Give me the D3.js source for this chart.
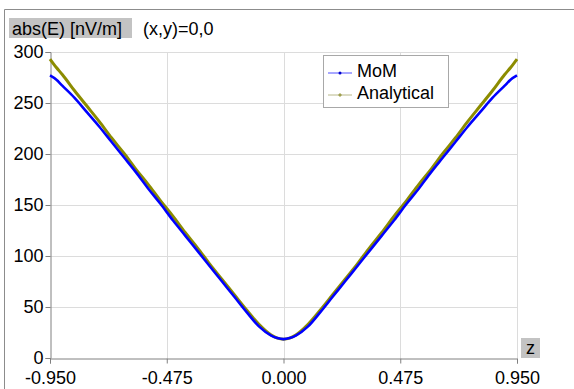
<!DOCTYPE html>
<html>
<head>
<meta charset="utf-8">
<script src="https://cdn.jsdelivr.net/npm/d3@7"></script>
<style>
  body { margin: 0; background: #fff; }
  svg { display: block; font-family: "Liberation Sans", Arial, sans-serif; }
</style>
</head>
<body>
<div id="chart"></div>
<script>
// sample positions along z (half, mirrored below)
const zHalf = [0, 0.025, 0.05, 0.1, 0.15, 0.2, 0.25, 0.3, 0.35, 0.4, 0.45, 0.5, 0.55, 0.6, 0.65, 0.7, 0.75, 0.8, 0.85, 0.9, 0.925, 0.95];
const momHalf = [18.5, 19.5, 22, 31, 45, 60, 75, 90, 105, 120, 135, 151, 166, 182, 197, 212, 227, 241, 255, 267, 273, 277];
const anaHalf = [18.5, 19.5, 22.5, 33, 47, 62, 77, 92, 108, 123, 139, 154, 170, 185, 201, 216, 232, 247, 262, 278, 285, 293];
const xTicks = [-0.95, -0.475, 0, 0.475, 0.95];
const yTicks = [0, 50, 100, 150, 200, 250, 300];
const seriesNames = ["MoM", "Analytical"];

function mirror(zs, vs) {
  const pts = [];
  for (let i = zs.length - 1; i > 0; i--) pts.push([-zs[i], vs[i]]);
  for (let i = 0; i < zs.length; i++) pts.push([zs[i], vs[i]]);
  return pts;
}
const momData = mirror(zHalf, momHalf);
const anaData = mirror(zHalf, anaHalf);

const width = 574, height = 389;
const svg = d3.select("#chart").append("svg")
  .attr("width", width).attr("height", height);

const x = d3.scaleLinear().domain([-0.95, 0.95]).range([50, 517]);
const y = d3.scaleLinear().domain([0, 300]).range([358, 52]);

// outer frame
svg.append("path")
  .attr("d", "M4.5,389V9.5H574")
  .attr("fill", "none").attr("stroke", "#8c8c8c");

// grid
svg.append("g").selectAll("line").data(yTicks.slice(1)).join("line")
  .attr("x1", 50).attr("x2", 517)
  .attr("y1", d => Math.round(y(d)) + 0.5).attr("y2", d => Math.round(y(d)) + 0.5)
  .attr("stroke", "#dcdcdc");
svg.append("g").selectAll("line").data(xTicks.slice(1)).join("line")
  .attr("x1", d => Math.round(x(d)) + 0.5).attr("x2", d => Math.round(x(d)) + 0.5)
  .attr("y1", 52).attr("y2", 358)
  .attr("stroke", "#dcdcdc");

// axes
const fmtX = d => d3.format(".3f")(d).replace("\u2212", "-");
const yAxis = svg.append("g").attr("transform", "translate(50.5,0)")
  .call(d3.axisLeft(y).tickValues(yTicks).tickSize(5).tickPadding(2).tickFormat(d3.format("d")));
const xAxis = svg.append("g").attr("transform", "translate(0,358.5)")
  .call(d3.axisBottom(x).tickValues(xTicks).tickSize(5).tickFormat(fmtX));
[yAxis, xAxis].forEach(a => {
  a.select(".domain").attr("stroke", "#808080");
  a.selectAll(".tick line").attr("stroke", "#808080");
  a.selectAll(".tick text").attr("fill", "#000")
    .style("font-size", "18px").style("font-family", "Liberation Sans, Arial, sans-serif");
});
yAxis.selectAll(".tick text").attr("dy", "0.33em");
xAxis.selectAll(".tick text").attr("y", 25.5).attr("dy", 0);

// curves
const line = d3.line().x(d => x(d[0])).y(d => y(d[1])).curve(d3.curveMonotoneX);
svg.append("path").datum(anaData).attr("d", line)
  .attr("fill", "none").attr("stroke", "#8c8c00").attr("stroke-width", 3);
svg.append("path").datum(momData).attr("d", line)
  .attr("fill", "none").attr("stroke", "#0000ff").attr("stroke-width", 2.6);

// y label
svg.append("rect").attr("x", 9).attr("y", 18).attr("width", 123).attr("height", 20).attr("fill", "#c3c3c3");
svg.append("text").attr("x", 12).attr("y", 34.5).style("font-size", "18px").text("abs(E) [nV/m]");
svg.append("text").attr("x", 143).attr("y", 34.5).style("font-size", "18px").text("(x,y)=0,0");

// x label
svg.append("rect").attr("x", 521).attr("y", 338).attr("width", 19).attr("height", 20).attr("fill", "#c3c3c3");
svg.append("text").attr("x", 530.5).attr("y", 354).attr("text-anchor", "middle").style("font-size", "18px").text("z");

// legend
const legend = svg.append("g");
legend.append("rect").attr("x", 323.5).attr("y", 55.5).attr("width", 125).attr("height", 52)
  .attr("fill", "#fff").attr("stroke", "#a8a8a8");
const legColors = ["#5050ff", "#b8b88a"];
const markColors = ["#0000c8", "#a0a050"];
seriesNames.forEach((name, i) => {
  const ly = 73 + i * 22;
  legend.append("line").attr("x1", 328).attr("x2", 352).attr("y1", ly).attr("y2", ly)
    .attr("stroke", legColors[i]).attr("stroke-width", 1);
  if (i === 0) {
    legend.append("circle").attr("cx", 340).attr("cy", ly).attr("r", 1.5).attr("fill", markColors[i]);
  } else {
    legend.append("path").attr("d", `M340,${ly - 2}L342,${ly}L340,${ly + 2}L338,${ly}Z`).attr("fill", markColors[i]);
  }
  legend.append("text").attr("x", 357).attr("y", ly + 4).style("font-size", "18px").text(name);
});
</script>
</body>
</html>
